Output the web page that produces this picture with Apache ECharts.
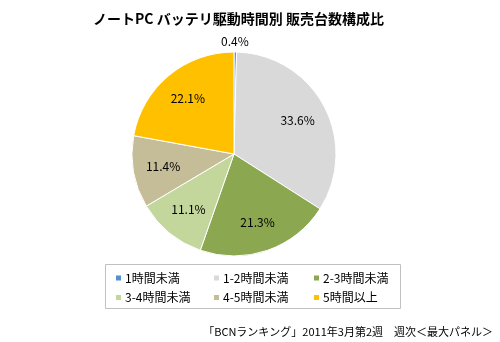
<!DOCTYPE html>
<html>
<head>
<meta charset="utf-8">
<script src="https://cdn.jsdelivr.net/npm/echarts@6/dist/echarts.min.js"></script>
<style>
  html, body { margin: 0; padding: 0; background: #fff; }
  #chart { width: 500px; height: 342px; }
</style>
</head>
<body>
<div id="chart"></div>
<script>
// カテゴリと構成比(%)
const categories = ['1時間未満', '1-2時間未満', '2-3時間未満', '3-4時間未満', '4-5時間未満', '5時間以上'];
const shares = [0.4, 33.6, 21.3, 11.1, 11.4, 22.1];
const colors = ['#558ED5', '#D9D9D9', '#8BA750', '#C3D69B', '#C4BD97', '#FFC000'];

// 凡例の列 (3列 x 2行)
const legendCols = [
  [categories[0], categories[3]],
  [categories[1], categories[4]],
  [categories[2], categories[5]]
];
const legendLeft = [114, 212, 312];

const FONT = '"Noto Sans CJK JP", "Noto Sans", sans-serif';

const pieData = categories.map(function (name, i) {
  return { name: name, value: shares[i], itemStyle: { color: colors[i] } };
});

const chartDom = document.getElementById('chart');
let myChart = echarts.init(chartDom);
let option;

option = {
  animation: false,
  title: {
    text: 'ノートPC バッテリ駆動時間別 販売台数構成比',
    left: 93,
    top: 12,
    padding: 0,
    textStyle: { fontFamily: FONT, fontSize: 14, fontWeight: 'bold', color: '#000' }
  },
  legend: legendCols.map(function (col, i) {
    return {
      data: col,
      orient: 'vertical',
      left: legendLeft[i],
      top: 272,
      padding: 0,
      itemWidth: 7,
      itemHeight: 7,
      itemGap: 7.5,
      icon: 'rect',
      selectedMode: false,
      textStyle: { fontFamily: FONT, fontSize: 12, color: '#000', padding: [0, 0, 0, -2] }
    };
  }),
  graphic: [
    {
      type: 'rect',
      shape: { x: 105.5, y: 264.5, width: 295, height: 44 },
      style: { fill: 'none', stroke: '#C0C0C0', lineWidth: 1 },
      z: -1
    },
    {
      type: 'text',
      right: 7,
      top: 326,
      style: {
        text: '「BCNランキング」2011年3月第2週　週次＜最大パネル＞',
        font: '11px ' + FONT,
        fill: '#000'
      }
    }
  ],
  series: [
    {
      type: 'pie',
      center: [234, 154],
      radius: [0, 102],
      startAngle: 90,
      clockwise: true,
      data: pieData,
      itemStyle: { borderColor: '#fff', borderWidth: 1 },
      label: { show: false },
      labelLine: { show: false }
    },
    {
      // ラベル用の透明な系列
      type: 'pie',
      center: [234, 154],
      radius: [36, 102],
      startAngle: 90,
      clockwise: true,
      silent: true,
      data: shares.map(function (v, i) { return { name: categories[i], value: v }; }),
      itemStyle: { color: 'rgba(0,0,0,0)' },
      label: {
        show: true,
        position: 'inside',
        formatter: function (p) { return p.value.toFixed(1) + '%'; },
        fontFamily: FONT,
        fontSize: 12,
        color: '#000'
      },
      labelLine: { show: false },
      labelLayout: function (params) {
        if (params.dataIndex === 0) {
          return { dy: -41 };
        }
        return {};
      }
    }
  ]
};

option && myChart.setOption(option);
</script>
</body>
</html>
